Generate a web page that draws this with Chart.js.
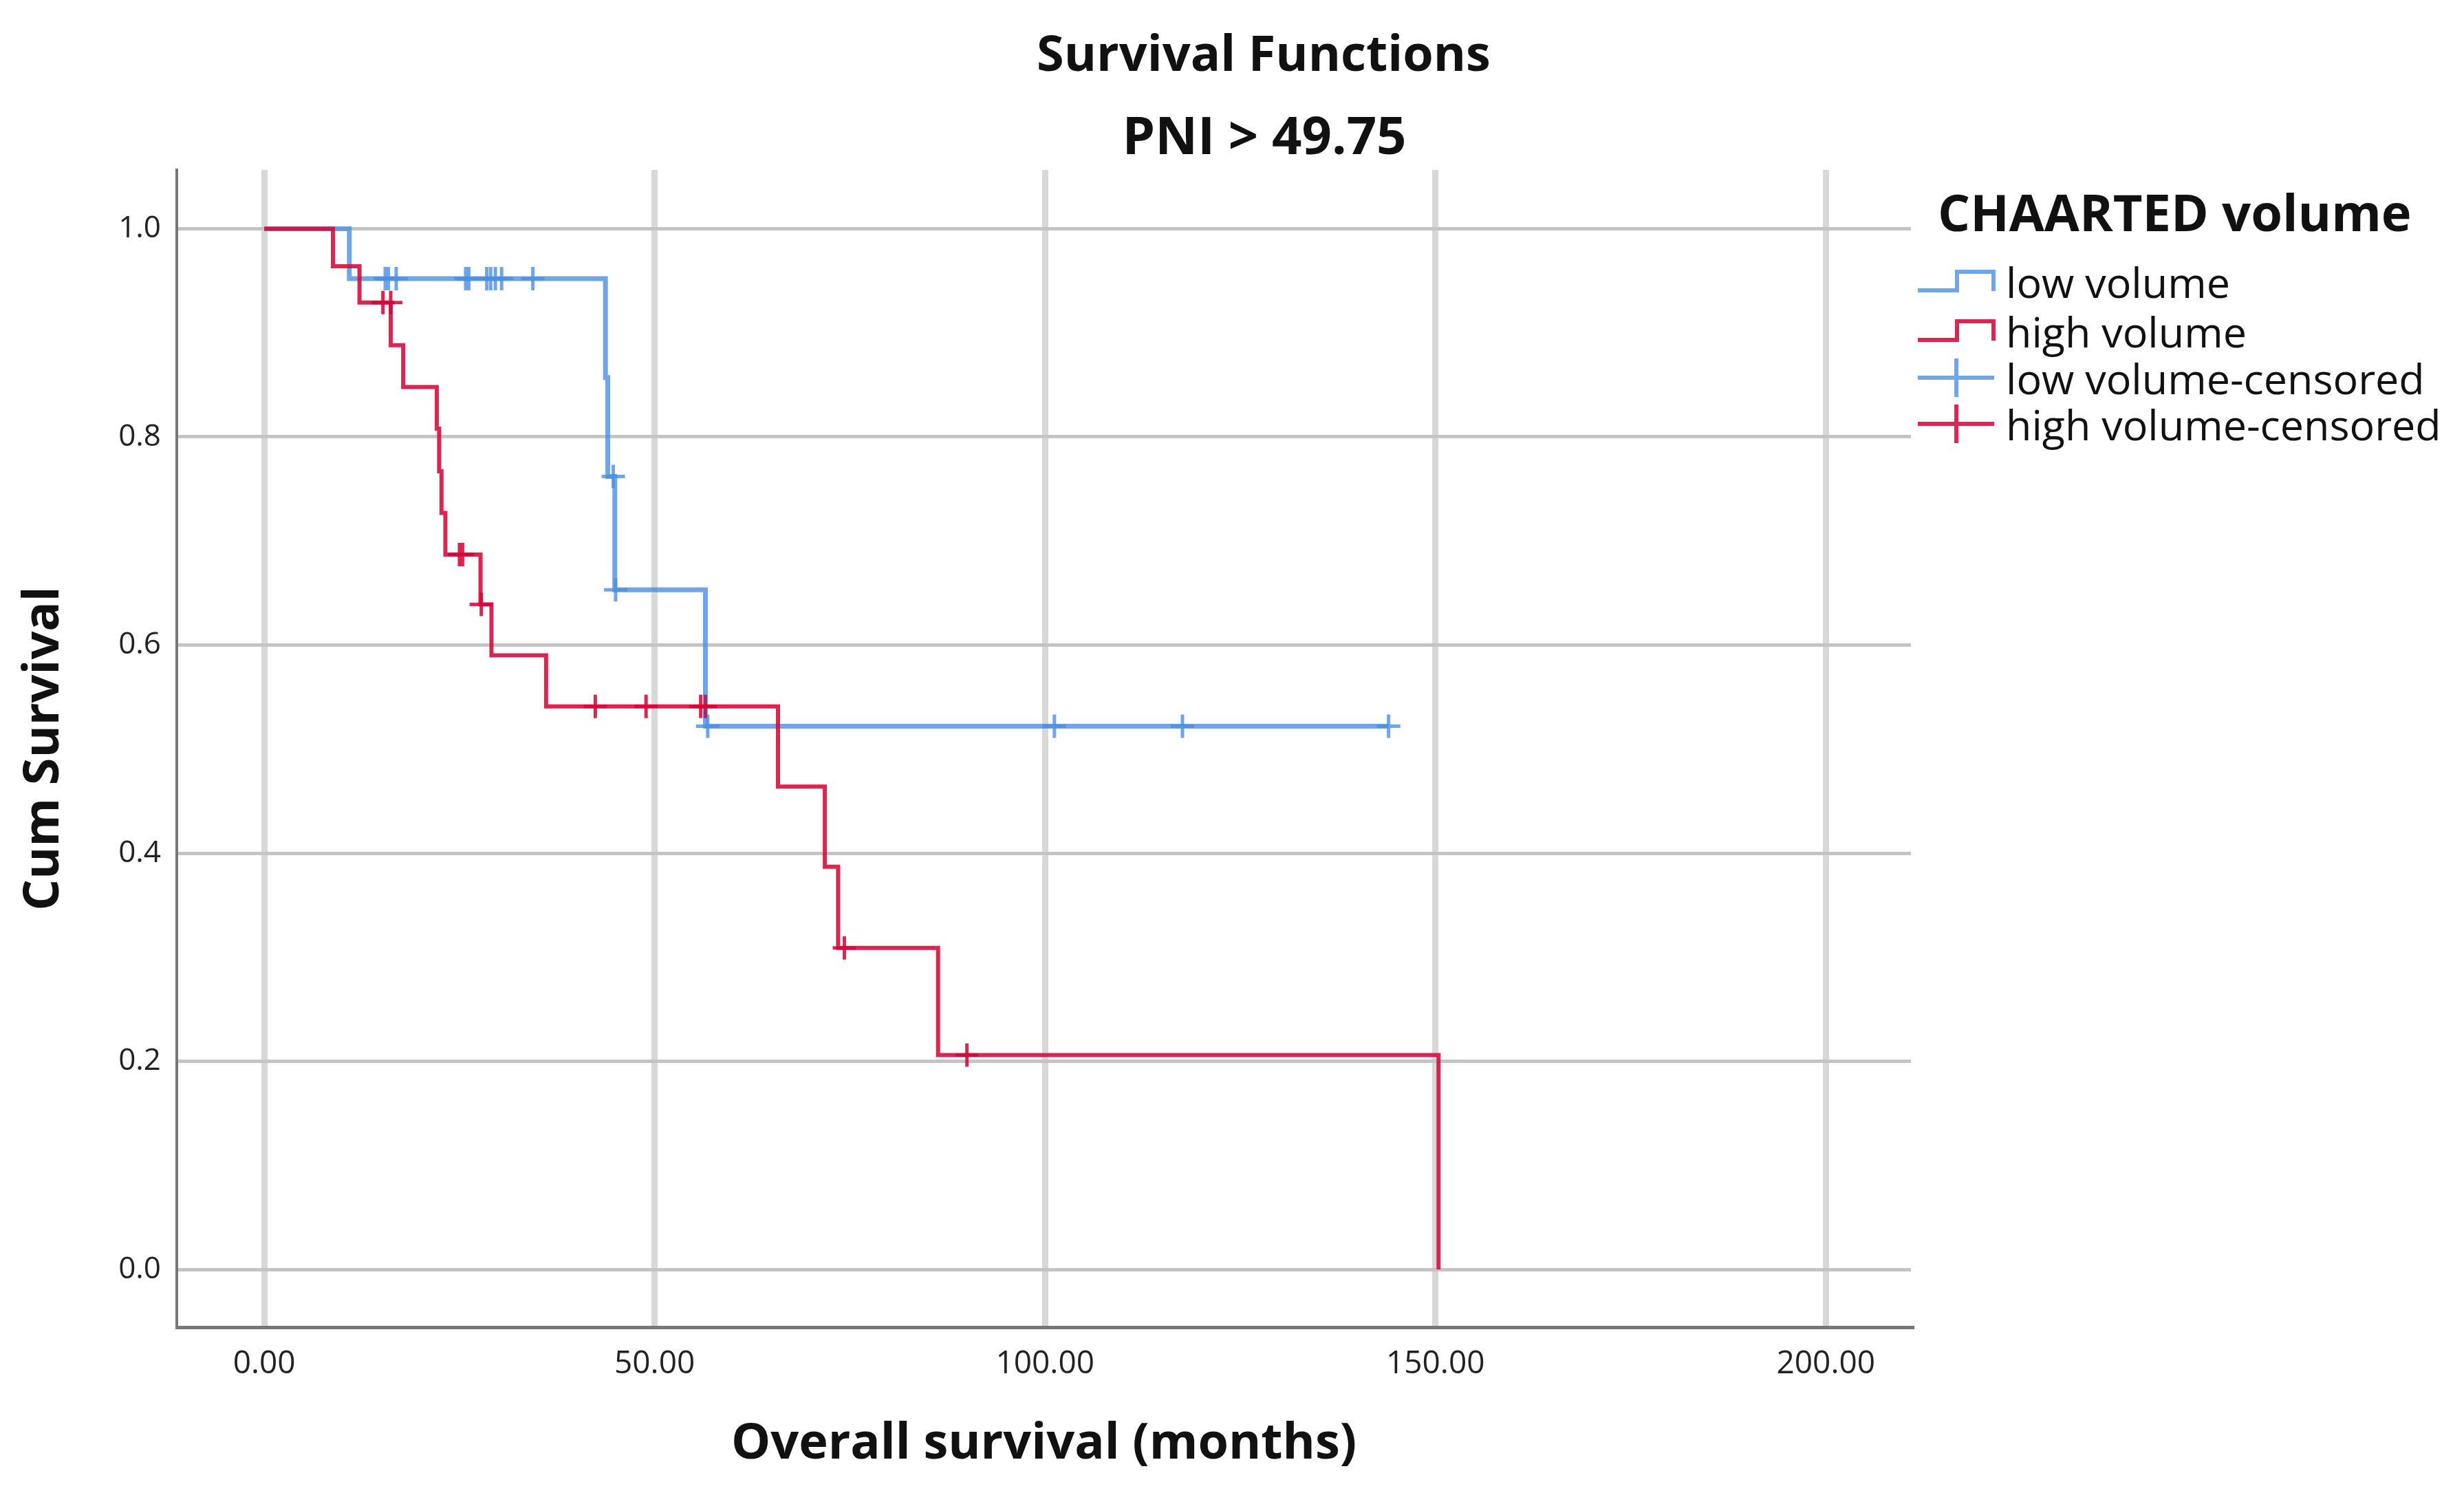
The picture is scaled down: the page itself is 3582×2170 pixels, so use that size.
<!DOCTYPE html>
<html>
<head>
<meta charset="utf-8">
<title>Survival Functions</title>
<script src="https://cdn.jsdelivr.net/npm/chart.js@4.4.1/dist/chart.umd.min.js"></script>
<style>
  html, body { margin: 0; padding: 0; background: #fff; }
  #wrap { width: 3582px; height: 2170px; position: relative; }
</style>
</head>
<body>
<div id="wrap"><canvas id="km"></canvas></div>
<script>
// Kaplan-Meier steps (months, cum survival)
const lowTimes = [0, 10.9, 43.7, 44.0, 44.9, 56.5, 144.0];
const lowSurv = [1, 0.952, 0.857, 0.762, 0.653, 0.522, 0.522];
const highTimes = [0, 8.8, 12.2, 16.2, 17.8, 22.1, 22.4, 22.7, 23.2, 27.7, 29.1, 36.1, 65.8, 71.8, 73.5, 86.3, 150.4];
const highSurv = [1, 0.964, 0.929, 0.888, 0.848, 0.808, 0.767, 0.727, 0.687, 0.639, 0.590, 0.541, 0.464, 0.387, 0.309, 0.206, 0];

// censored cases
const lowCensTimes = [15.5, 15.9, 16.9, 25.8, 26.2, 28.5, 29.0, 29.6, 30.4, 34.4, 44.7, 45.0, 56.8, 101.2, 117.6, 144.0];
const lowCensSurv = [0.952, 0.952, 0.952, 0.952, 0.952, 0.952, 0.952, 0.952, 0.952, 0.952, 0.762, 0.653, 0.522, 0.522, 0.522, 0.522];
const highCensTimes = [15.2, 16.2, 25.0, 25.4, 27.8, 42.4, 48.9, 55.9, 56.5, 74.3, 90.0];
const highCensSurv = [0.929, 0.929, 0.687, 0.687, 0.639, 0.541, 0.541, 0.541, 0.541, 0.309, 0.206];

const xTicks = [0, 50, 100, 150, 200];
const xTickLabels = ["0.00", "50.00", "100.00", "150.00", "200.00"];
const yTicks = [0, 0.2, 0.4, 0.6, 0.8, 1.0];
const yTickLabels = ["0.0", "0.2", "0.4", "0.6", "0.8", "1.0"];

const seriesNames = ["low volume", "high volume", "low volume-censored", "high volume-censored"];
const legendTitle = "CHAARTED volume";
const chartTitle = ["Survival Functions", "PNI > 49.75"];
const xTitle = "Overall survival (months)";
const yTitle = "Cum Survival";

const lowColor = "rgba(74, 144, 226, 0.8)";
const highColor = "rgba(214, 8, 58, 0.88)";
const FONT = '"Open Sans", "Noto Sans", sans-serif';

const toPoints = (xs, ys) => xs.map((x, i) => ({ x: x, y: ys[i] }));

// titles + SPSS style legend
const spssDecor = {
  id: "spssDecor",
  afterDraw(chart) {
    const ctx = chart.ctx;
    ctx.save();
    ctx.fillStyle = "#111";
    ctx.textBaseline = "alphabetic";
    ctx.textAlign = "center";
    ctx.font = "bold 72px " + FONT;
    ctx.fillText(chartTitle[0], 1837, 103);
    ctx.font = "bold 76px " + FONT;
    ctx.fillText(chartTitle[1], 1838, 224);

    ctx.textAlign = "left";
    ctx.font = "bold 74px " + FONT;
    ctx.fillText(legendTitle, 2817, 336);

    const baselines = [433, 505, 573, 640];
    const colors = [lowColor, highColor, lowColor, highColor];
    ctx.font = "61px " + FONT;
    seriesNames.forEach((name, i) => {
      const b = baselines[i];
      ctx.strokeStyle = colors[i];
      ctx.lineWidth = 6;
      ctx.beginPath();
      if (i < 2) {
        ctx.moveTo(2788, b - 11);
        ctx.lineTo(2845, b - 11);
        ctx.lineTo(2845, b - 38);
        ctx.lineTo(2898, b - 38);
        ctx.lineTo(2898, b - 10);
      } else {
        ctx.moveTo(2788, b - 24);
        ctx.lineTo(2899, b - 24);
        ctx.moveTo(2844, b - 52);
        ctx.lineTo(2844, b + 4);
      }
      ctx.stroke();
      ctx.fillStyle = "#111";
      ctx.fillText(name, 2916, b);
    });
    ctx.restore();
  }
};

new Chart(document.getElementById("km"), {
  type: "scatter",
  data: {
    datasets: [
      {
        label: seriesNames[1],
        data: toPoints(highTimes, highSurv),
        showLine: true,
        stepped: "before",
        borderColor: highColor,
        borderWidth: 6,
        pointRadius: 0,
        fill: false,
      },
      {
        label: seriesNames[3],
        data: toPoints(highCensTimes, highCensSurv),
        showLine: false,
        pointStyle: "cross",
        pointRadius: 17,
        borderColor: highColor,
        borderWidth: 5,
      },
      {
        label: seriesNames[0],
        data: toPoints(lowTimes, lowSurv),
        showLine: true,
        stepped: "before",
        borderColor: lowColor,
        borderWidth: 7,
        pointRadius: 0,
        fill: false,
      },
      {
        label: seriesNames[2],
        data: toPoints(lowCensTimes, lowCensSurv),
        showLine: false,
        pointStyle: "cross",
        pointRadius: 17,
        borderColor: lowColor,
        borderWidth: 5,
      },
    ],
  },
  options: {
    responsive: true,
    maintainAspectRatio: false,
    devicePixelRatio: 1,
    animation: false,
    layout: {
      padding: { top: 247, right: 804, left: 0, bottom: 0 },
    },
    scales: {
      x: {
        type: "linear",
        min: -11.2,
        max: 210.9,
        afterBuildTicks: (scale) => {
          scale.ticks = xTicks.map((v) => ({ value: v }));
        },
        afterFit: (scale) => {
          scale.height = 241;
        },
        ticks: {
          callback: (value) => xTickLabels[xTicks.indexOf(value)],
          font: { family: FONT, size: 46 },
          color: "#222",
          padding: 26,
          maxRotation: 0,
        },
        grid: {
          color: "#d8d8d8",
          lineWidth: 9,
          drawTicks: false,
        },
        border: { color: "#777", width: 5 },
        title: {
          display: true,
          text: xTitle,
          font: { family: FONT, size: 72, weight: "bold" },
          color: "#111",
          padding: { top: 0, bottom: 27 },
        },
      },
      y: {
        type: "linear",
        min: -0.0555,
        max: 1.0565,
        afterBuildTicks: (scale) => {
          scale.ticks = yTicks.map((v) => ({ value: v }));
        },
        afterFit: (scale) => {
          scale.width = 257;
        },
        ticks: {
          callback: (value) => yTickLabels[yTicks.indexOf(value)],
          font: { family: FONT, size: 44 },
          color: "#222",
          padding: 23,
        },
        grid: {
          color: "#c4c4c4",
          lineWidth: 5,
          drawTicks: false,
        },
        border: { color: "#777", width: 4 },
        title: {
          display: true,
          text: yTitle,
          font: { family: FONT, size: 72, weight: "bold" },
          color: "#111",
          padding: { top: 21, bottom: 0 },
        },
      },
    },
    plugins: {
      legend: { display: false },
      title: { display: false },
      tooltip: { enabled: false },
    },
  },
  plugins: [spssDecor],
});
</script>
</body>
</html>
